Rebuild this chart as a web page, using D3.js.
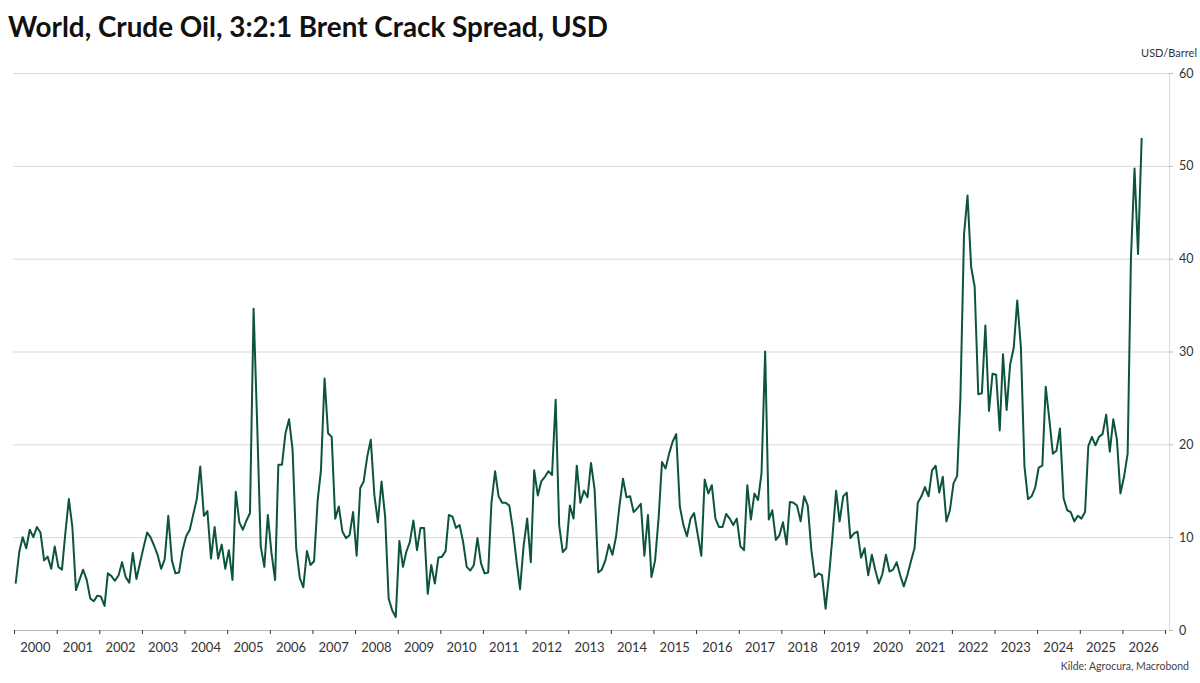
<!DOCTYPE html>
<html>
<head>
<meta charset="utf-8">
<script src="https://cdn.jsdelivr.net/npm/d3@7"></script>
<style>
  html, body { margin: 0; padding: 0; background: #fff; }
  svg { display: block; }
  text { font-family: Lato, "Open Sans", "Noto Sans", sans-serif; }
</style>
</head>
<body>
<svg id="chart" width="1200" height="683"></svg>
<script>
// ---- Data (monthly, starting Jan 2000) ----
const startYear = 2000;
const v2000 = [5.0, 8.4, 10.0, 8.8, 10.8, 10.0, 11.1, 10.5, 7.5, 7.9, 6.6, 9.0];
const v2001 = [6.8, 6.5, 10.3, 14.1, 11.1, 4.3, 5.4, 6.5, 5.4, 3.4, 3.1, 3.7];
const v2002 = [3.6, 2.6, 6.1, 5.8, 5.3, 5.9, 7.3, 5.7, 5.1, 8.3, 5.5, 7.2];
const v2003 = [8.9, 10.5, 10.0, 9.1, 8.1, 6.6, 7.6, 12.3, 7.5, 6.1, 6.2, 8.6];
const v2004 = [10.1, 10.8, 12.4, 14.1, 17.6, 12.3, 12.8, 7.7, 11.1, 7.7, 9.2, 6.6];
const v2005 = [8.6, 5.4, 14.9, 11.6, 10.8, 11.8, 12.6, 34.6, 22.0, 9.0, 6.8, 12.4];
const v2006 = [8.3, 5.4, 17.8, 17.8, 21.2, 22.7, 19.4, 8.8, 5.6, 4.6, 8.5, 7.0];
const v2007 = [7.4, 14.0, 17.2, 27.1, 21.2, 20.8, 12.0, 13.3, 10.6, 9.9, 10.2, 12.7];
const v2008 = [8.0, 15.3, 16.0, 18.7, 20.5, 14.5, 11.6, 16.0, 12.2, 3.4, 2.1, 1.4];
const v2009 = [9.6, 6.8, 8.4, 9.5, 11.8, 8.6, 11.0, 11.0, 3.9, 7.0, 5.0, 7.8];
const v2010 = [7.9, 8.5, 12.4, 12.2, 11.0, 11.3, 9.5, 6.8, 6.4, 7.0, 9.9, 7.2];
const v2011 = [6.1, 6.2, 13.7, 17.1, 14.4, 13.7, 13.7, 13.4, 10.8, 7.5, 4.4, 9.0];
const v2012 = [12.0, 7.3, 17.2, 14.5, 16.0, 16.5, 17.1, 16.7, 24.8, 11.3, 8.4, 8.8];
const v2013 = [13.4, 12.0, 17.7, 13.7, 15.0, 14.3, 18.0, 15.1, 6.2, 6.5, 7.5, 9.2];
const v2014 = [8.1, 10.1, 13.3, 16.3, 14.3, 14.4, 12.7, 13.1, 13.6, 8.0, 12.4, 5.7];
const v2015 = [7.5, 12.2, 18.1, 17.4, 19.0, 20.3, 21.1, 13.3, 11.3, 10.1, 12.0, 12.6];
const v2016 = [10.3, 8.0, 16.2, 14.7, 15.6, 12.0, 11.1, 11.1, 12.5, 12.0, 11.3, 12.0];
const v2017 = [9.0, 8.6, 15.6, 11.9, 14.7, 14.0, 16.9, 30.0, 11.9, 12.9, 9.7, 10.2];
const v2018 = [11.6, 9.2, 13.8, 13.7, 13.4, 11.7, 14.4, 13.4, 8.6, 5.7, 6.1, 5.9];
const v2019 = [2.3, 6.1, 10.1, 15.0, 11.7, 14.4, 14.8, 9.9, 10.4, 10.6, 7.8, 8.8];
const v2020 = [5.9, 8.1, 6.5, 5.0, 6.0, 8.1, 6.3, 6.5, 7.3, 5.9, 4.7, 5.9];
const v2021 = [7.4, 8.8, 13.7, 14.4, 15.4, 14.4, 17.2, 17.7, 14.8, 16.5, 11.7, 12.9];
const v2022 = [15.8, 16.6, 25.0, 42.6, 46.8, 39.1, 37.0, 25.4, 25.5, 32.8, 23.6, 27.6];
const v2023 = [27.5, 21.5, 29.7, 23.7, 28.6, 30.4, 35.5, 30.5, 17.6, 14.1, 14.4, 15.3];
const v2024 = [17.5, 17.7, 26.2, 22.7, 19.0, 19.3, 21.7, 14.2, 12.9, 12.7, 11.7, 12.3];
const v2025 = [12.0, 12.7, 19.8, 20.8, 19.9, 20.8, 21.1, 23.2, 19.2, 22.7, 20.5, 14.7];
const v2026 = [16.5, 19.0, 40.0, 49.7, 40.5, 53.0];

const yTicks = [0, 10, 20, 30, 40, 50, 60];
const yearLabels = d3.range(2000, 2027);
const title = "World, Crude Oil, 3:2:1 Brent Crack Spread, USD";
const unitLabel = "USD/Barrel";
const sourceLabel = "Kilde: Agrocura, Macrobond";

const allValues = [].concat(v2000, v2001, v2002, v2003, v2004, v2005, v2006, v2007, v2008,
  v2009, v2010, v2011, v2012, v2013, v2014, v2015, v2016, v2017, v2018, v2019, v2020,
  v2021, v2022, v2023, v2024, v2025, v2026);
const data = allValues.map((v, i) => ({ date: new Date(startYear, i, 15), value: v }));

// ---- Layout ----
const svg = d3.select("#chart");
const plotLeft = 14, plotRight = 1165, axisX = 1169, plotTop = 73, plotBottom = 630;

const x = d3.scaleTime()
  .domain([new Date(2000, 0, 1), new Date(2027, 0, 1)])
  .range([plotLeft, plotRight]);
const y = d3.scaleLinear().domain([0, 60]).range([plotBottom, plotTop]);

// Title
svg.append("text")
  .attr("x", 8).attr("y", 37)
  .attr("font-size", 28).attr("font-weight", 700)
  .attr("fill", "#111")
  .attr("textLength", 600).attr("lengthAdjust", "spacingAndGlyphs")
  .text(title);

// Gridlines
const grid = svg.append("g")
  .attr("transform", `translate(${axisX},0)`)
  .call(d3.axisRight(y).tickValues(yTicks.filter(d => d > 0)).tickSize(-(axisX - plotLeft + 1)).tickFormat(""));
grid.select(".domain").remove();
grid.selectAll("line").attr("stroke", "#d9d9d9").attr("stroke-width", 1);

// Right axis
const yAxis = svg.append("g")
  .attr("transform", `translate(${axisX},0)`)
  .call(d3.axisRight(y).tickValues(yTicks).tickSize(4).tickPadding(6));
yAxis.select(".domain").attr("stroke", "#d9d9d9");
yAxis.selectAll(".tick line").attr("stroke", "#bbbbbb");
yAxis.selectAll("text").attr("font-size", 12.5).attr("fill", "#333")
  .attr("font-family", "Lato, 'Open Sans', sans-serif");

svg.append("text")
  .attr("x", 1197).attr("y", 57)
  .attr("text-anchor", "end")
  .attr("font-size", 11).attr("fill", "#333")
  .text(unitLabel);

// Bottom axis
const xAxis = svg.append("g")
  .attr("transform", `translate(0,${plotBottom})`)
  .call(d3.axisBottom(x).ticks(d3.timeYear.every(1)).tickSize(4).tickFormat(""));
xAxis.select(".domain").attr("stroke", "#bbbbbb").attr("d", `M${plotLeft},0.5H${plotRight}`);
xAxis.selectAll(".tick line").attr("stroke", "#333");

svg.append("g").selectAll("text")
  .data(yearLabels)
  .join("text")
  .attr("x", d => x(new Date(d, 6, 2)))
  .attr("y", 652)
  .attr("text-anchor", "middle")
  .attr("font-size", 13).attr("fill", "#333")
  .text(d => d);

// Source
svg.append("text")
  .attr("x", 1189).attr("y", 670)
  .attr("text-anchor", "end")
  .attr("font-size", 10.5).attr("fill", "#444")
  .text(sourceLabel);

// Line
const line = d3.line()
  .x(d => x(d.date))
  .y(d => y(d.value));

svg.append("path")
  .datum(data)
  .attr("fill", "none")
  .attr("stroke", "#0d5440")
  .attr("stroke-width", 2)
  .attr("stroke-linejoin", "round")
  .attr("d", line);
</script>
</body>
</html>
